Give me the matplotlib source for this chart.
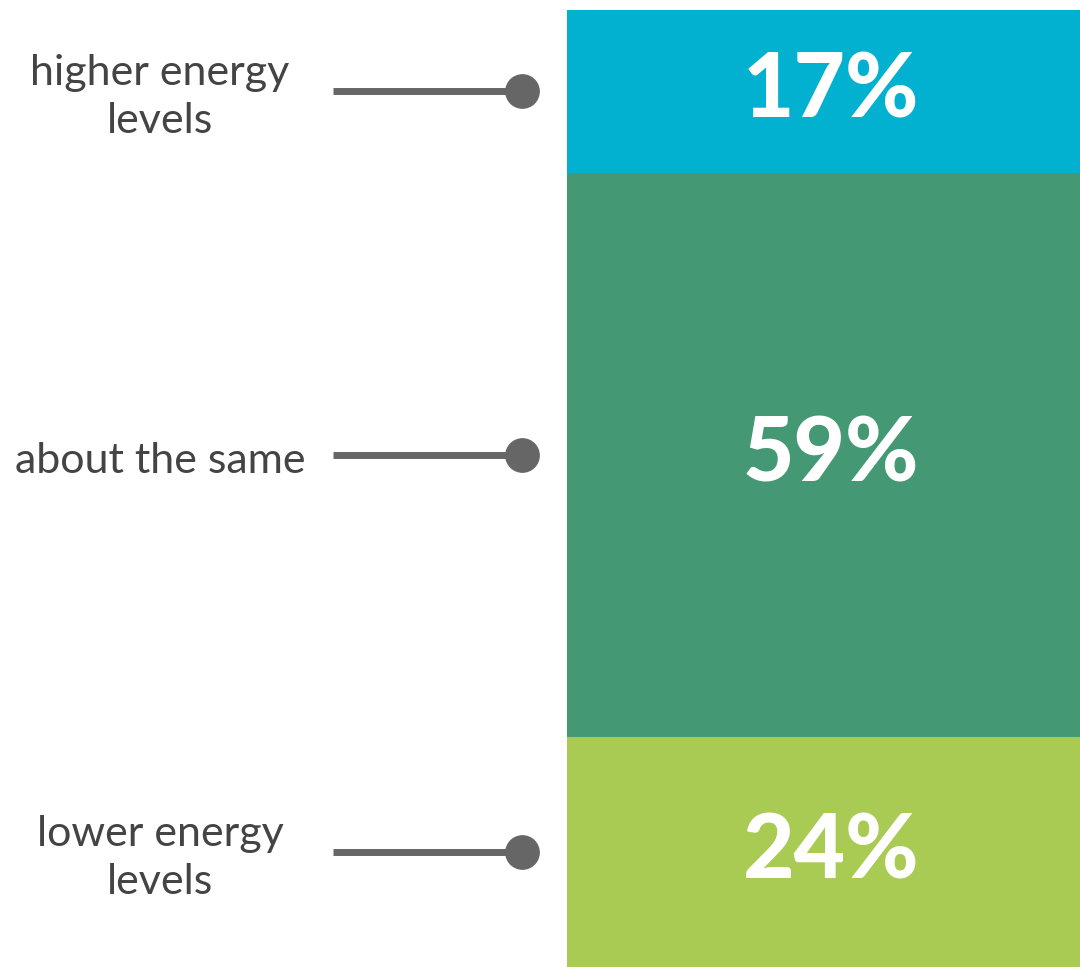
import matplotlib.pyplot as plt
from matplotlib.transforms import blended_transform_factory

labels = ["higher energy\nlevels", "about the same", "lower energy\nlevels"]
values = [17, 59, 24]
colors = ["#02B0CF", "#449873", "#A9CB53"]

fig = plt.figure(figsize=(10.8, 9.67), dpi=100)
ax = fig.add_axes([567 / 1080, 0, 513 / 1080, 957 / 967])
ax.set_xlim(0, 1)
ax.set_ylim(100, 0)
ax.axis("off")

bottoms = [sum(values[:i]) for i in range(len(values))]
ax.bar([0.5] * len(values), values, width=1, bottom=bottoms, color=colors)

trans = blended_transform_factory(fig.transFigure, ax.transData)
for lab, v, b in zip(labels, values, bottoms):
    mid = b + v / 2
    ax.text(0.515, mid, f"{v}%", ha="center", va="center", color="white",
            fontsize=64, fontweight="black", family="Lato")
    ax.plot([333 / 1080, 522 / 1080], [mid, mid], color="#666666", lw=5,
            transform=trans, clip_on=False, solid_capstyle="butt")
    ax.plot([522 / 1080], [mid], "o", color="#666666", ms=24,
            transform=trans, clip_on=False)
    ax.text(160 / 1080, mid + 0.6, lab, ha="center", va="center", color="#444444",
            fontsize=31, family="Lato", linespacing=1.3, transform=trans)

fig.savefig("out.png", dpi=100)
